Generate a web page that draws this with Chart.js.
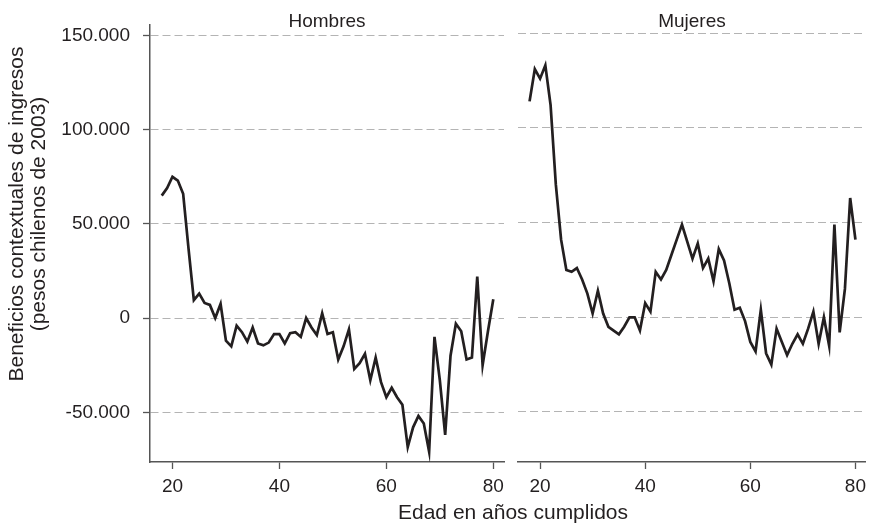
<!DOCTYPE html>
<html>
<head>
<meta charset="utf-8">
<script src="https://cdn.jsdelivr.net/npm/chart.js@4/dist/chart.umd.min.js"></script>
<style>
  html, body { margin: 0; padding: 0; background: #ffffff; }
  #wrap { position: relative; width: 872px; height: 525px; }
  #wrap canvas { position: absolute; left: 0; top: 0; }
</style>
</head>
<body>
<div id="wrap">
  <canvas id="cLeft" width="872" height="525"></canvas>
  <canvas id="cRight" width="872" height="525"></canvas>
</div>
<script>
// ---- data ----
const ages = [18,19,20,21,22,23,24,25,26,27,28,29,30,31,32,33,34,35,36,37,38,39,40,41,42,43,44,45,46,47,48,49,
              50,51,52,53,54,55,56,57,58,59,60,61,62,63,64,65,66,67,68,69,70,71,72,73,74,75,76,77,78,79,80];

const hombres = [65000,69000,75000,73000,66000,37000,9500,13000,8000,7000,0,7500,-12000,-15000,-4000,-7500,
                 -12500,-5000,-13500,-14500,-13000,-8500,-8500,-13500,-8000,-7500,-10000,0,-5000,-9000,2500,-8500,
                 -7500,-22000,-15000,-6000,-27000,-24000,-19000,-33000,-21000,-34000,-42000,-37000,-42000,-46000,
                 -68500,-58000,-52000,-56000,-71000,-10000,-33000,-62000,-20000,-3000,-7000,-22000,-21000,22000,
                 -25000,-7000,10000];

const mujeres = [114000,131000,126000,133000,112000,70000,41000,25000,24000,26000,20000,12500,2000,14000,2000,
                 -5000,-7000,-9000,-5000,0,0,-7000,7500,3000,24000,20000,25000,33000,41000,49000,40000,31000,
                 39000,26000,31000,19000,36000,30000,18000,4000,5000,-2000,-13000,-18000,4000,-19000,-25000,
                 -6000,-13000,-20000,-14000,-9000,-14000,-6000,3000,-14000,0,-15000,49000,-8000,15000,63000,41000];

const panelTitles = ['Hombres', 'Mujeres'];
const xTicks = [20, 40, 60, 80];
const yTicks = [-50000, 0, 50000, 100000, 150000];
const yTitleLines = ['Beneficios contextuales de ingresos', '(pesos chilenos de 2003)'];
const xTitle = 'Edad en años cumplidos';

// ---- styling ----
const FONT = "'Liberation Sans', Arial, Helvetica, sans-serif";
const TEXT = '#231f20';
const AXIS = '#555555';
const GRID = '#b4b4b4';

function fmt(v) {
  const s = Math.abs(v).toString().replace(/\B(?=(\d{3})+(?!\d))/g, '.');
  return (v < 0 ? '-' : '') + s;
}

const panelTitlePlugin = {
  id: 'panelTitle',
  afterDraw(chart, args, opts) {
    const {ctx, chartArea} = chart;
    ctx.save();
    ctx.font = '19px ' + FONT;
    ctx.fillStyle = TEXT;
    ctx.textAlign = 'center';
    ctx.textBaseline = 'alphabetic';
    ctx.fillText(opts.text, (chartArea.left + chartArea.right) / 2, 27);
    ctx.restore();
  }
};

const axisTitlesPlugin = {
  id: 'axisTitles',
  afterDraw(chart, args, opts) {
    if (!opts.show) return;
    const {ctx} = chart;
    ctx.save();
    ctx.font = '21px ' + FONT;
    ctx.fillStyle = TEXT;
    ctx.textAlign = 'center';
    ctx.textBaseline = 'alphabetic';
    // y title, rotated
    const xs = [23, 45];
    yTitleLines.forEach((line, i) => {
      ctx.save();
      ctx.translate(xs[i], 214);
      ctx.rotate(-Math.PI / 2);
      ctx.fillText(line, 0, 0);
      ctx.restore();
    });
    // x title
    ctx.fillText(xTitle, 513, 519);
    ctx.restore();
  }
};

function makeChart(id, values, title, isLeft) {
  const areaLeft = isLeft ? 150 : 518;
  const areaRight = isLeft ? 504 : 872;
  return new Chart(document.getElementById(id), {
    type: 'line',
    data: {
      datasets: [{
        data: ages.map((a, i) => ({x: a, y: values[i]})),
        borderColor: TEXT,
        borderWidth: 2.7,
        pointRadius: 0,
        tension: 0,
        fill: false,
        borderJoinStyle: 'miter',
        borderCapStyle: 'butt'
      }]
    },
    options: {
      responsive: false,
      animation: false,
      events: [],
      layout: { padding: { left: 0, top: 22, right: 872 - areaRight, bottom: 0 } },
      plugins: {
        legend: { display: false },
        tooltip: { enabled: false },
        panelTitle: { text: title },
        axisTitles: { show: isLeft }
      },
      scales: {
        x: {
          type: 'linear',
          min: 15.8,
          max: 82,
          afterBuildTicks: (s) => { s.ticks = xTicks.map(v => ({value: v})); },
          afterFit: (s) => { s.height = 63; },
          grid: { drawOnChartArea: false, drawTicks: true, tickLength: 7, tickColor: AXIS, tickWidth: 1.3, color: AXIS },
          border: { display: true, color: AXIS, width: 1.5 },
          ticks: {
            font: { family: FONT, size: 19 },
            color: TEXT,
            padding: 6,
            maxRotation: 0,
            autoSkip: false,
            callback: (v) => String(v)
          }
        },
        y: {
          type: 'linear',
          min: -76400,
          max: 155900,
          afterBuildTicks: (s) => { s.ticks = yTicks.map(v => ({value: v})); },
          afterFit: (s) => { s.width = areaLeft; },
          grid: {
            color: GRID,
            lineWidth: 1,
            drawTicks: isLeft,
            tickLength: 7,
            tickColor: AXIS,
            tickWidth: 1.3,
            tickBorderDash: []
          },
          border: { display: isLeft, color: AXIS, width: 1.5, dash: [8, 4] },
          ticks: {
            display: isLeft,
            font: { family: FONT, size: 19 },
            color: TEXT,
            padding: 13,
            autoSkip: false,
            callback: (v) => fmt(v)
          }
        }
      }
    },
    plugins: [panelTitlePlugin, axisTitlesPlugin]
  });
}

makeChart('cLeft', hombres, panelTitles[0], true);
makeChart('cRight', mujeres, panelTitles[1], false);
</script>
</body>
</html>
